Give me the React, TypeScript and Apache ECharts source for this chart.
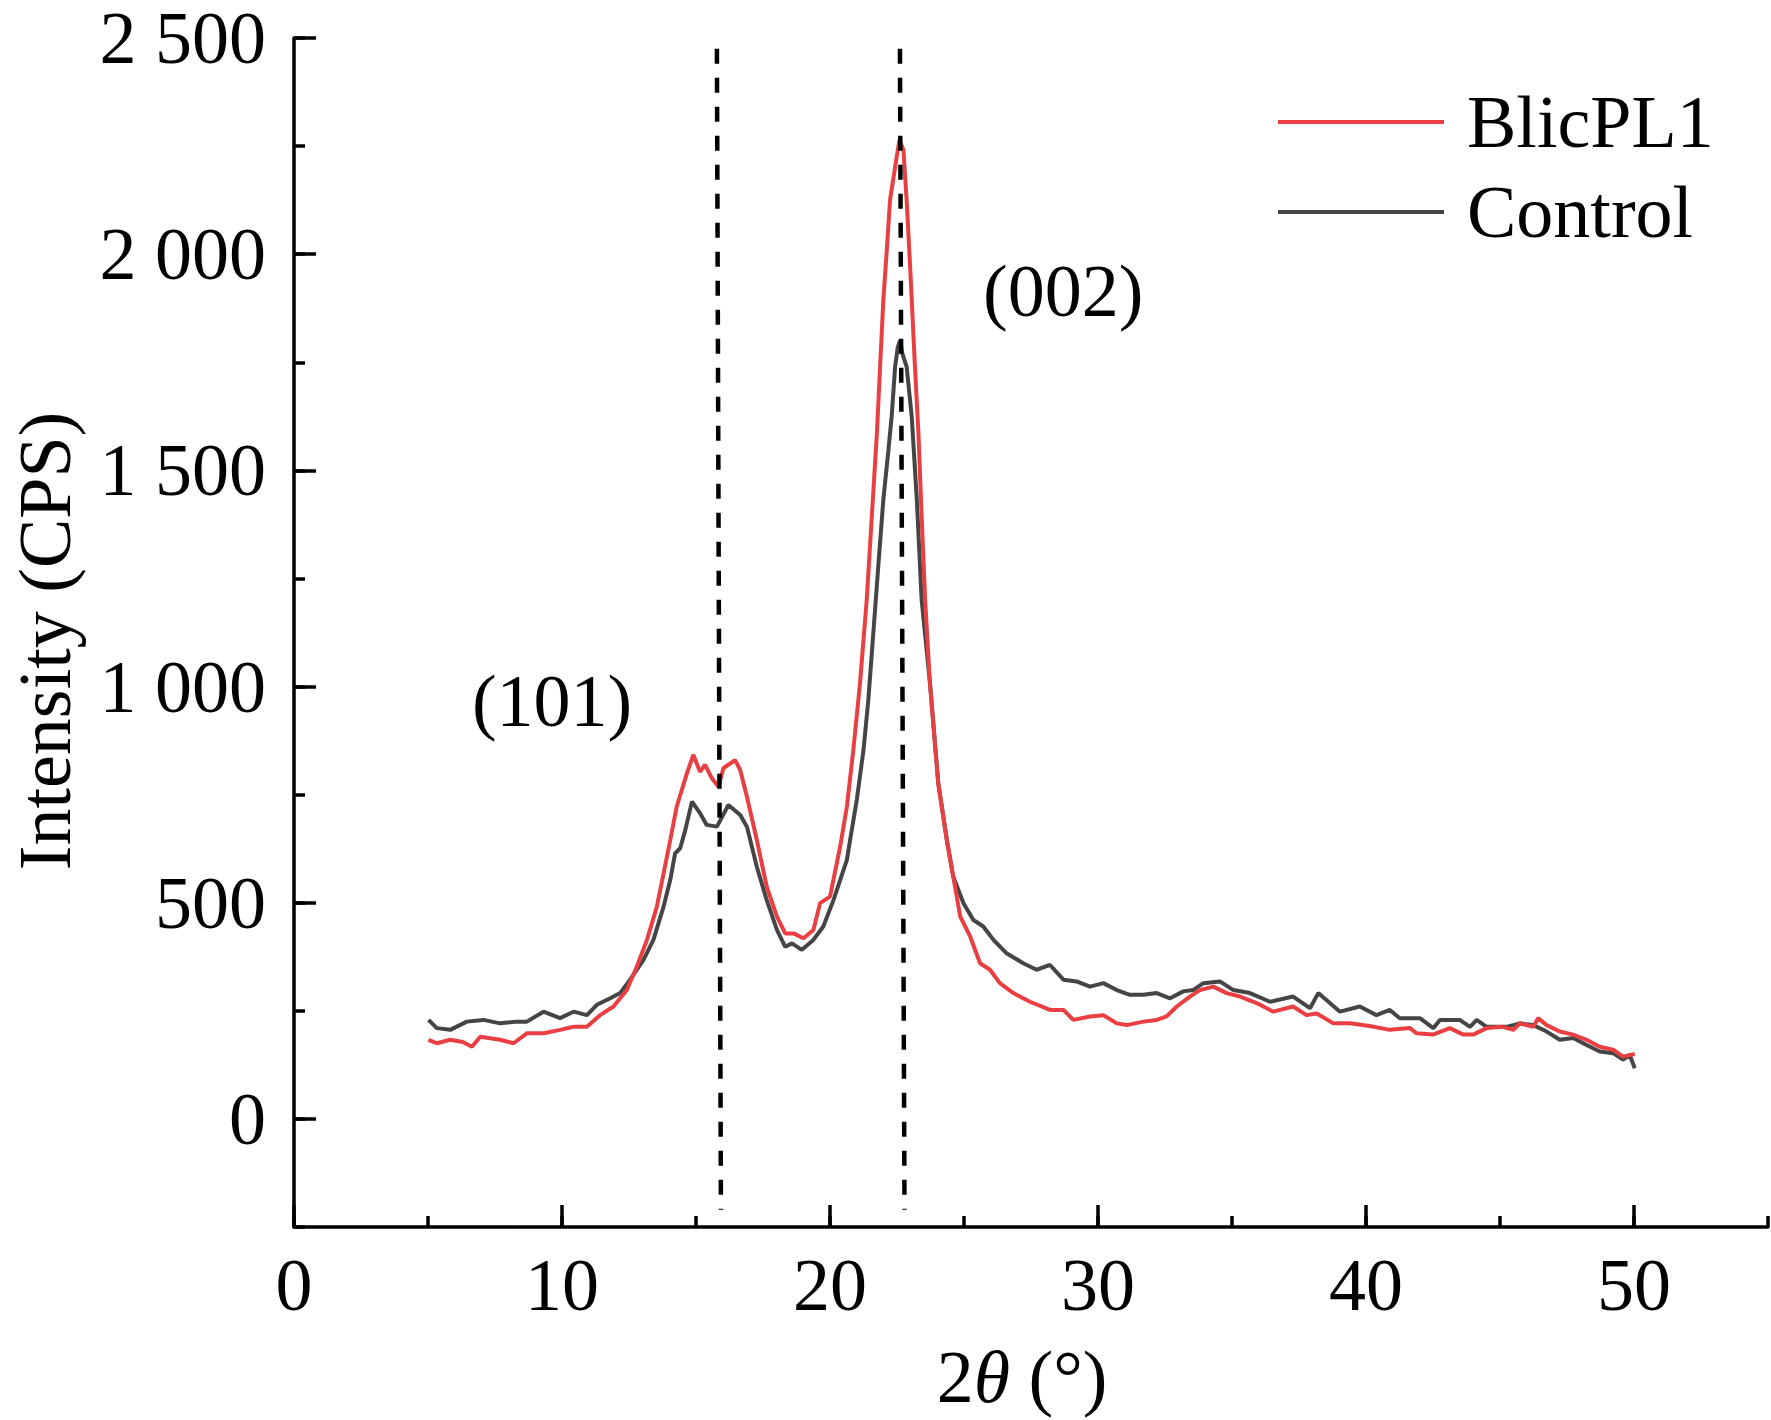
import React, { useEffect, useRef } from "react";
import * as echarts from "echarts";

const FONT = '"Liberation Serif", "Times New Roman", serif';

// 2θ positions and intensities
const blicX = [5.02, 5.33, 5.83, 6.3, 6.64, 6.95, 7.69, 8.19, 8.69, 9.31, 9.93, 10.43, 10.93, 11.42, 11.92, 12.42, 12.79, 13.17, 13.54, 13.79, 14.04, 14.28, 14.66, 14.9, 15.15, 15.34, 15.59, 15.84, 16.02, 16.46, 16.65, 16.9, 17.27, 17.64, 18.02, 18.33, 18.64, 19.01, 19.38, 19.63, 20.0, 20.38, 20.63, 20.87, 21.12, 21.37, 21.56, 21.75, 21.87, 21.99, 22.12, 22.24, 22.43, 22.59, 22.74, 22.86, 22.99, 23.17, 23.3, 23.42, 23.55, 23.73, 24.04, 24.36, 24.6, 24.86, 25.23, 25.6, 25.97, 26.34, 26.84, 27.46, 28.21, 28.71, 29.08, 29.7, 30.2, 30.7, 31.07, 31.69, 32.19, 32.56, 32.94, 33.43, 33.8, 34.3, 34.8, 35.3, 35.92, 36.54, 37.28, 37.78, 38.16, 38.78, 39.4, 40.14, 40.89, 41.64, 41.88, 42.5, 43.13, 43.63, 44.0, 44.5, 45.1, 45.5, 45.74, 46.24, 46.42, 46.74, 47.23, 47.73, 48.23, 48.72, 49.22, 49.59, 50.03];
const blicY = [183, 175, 183, 178, 167, 190, 183, 175, 198, 198, 206, 213, 213, 240, 260, 298, 352, 414, 491, 568, 645, 722, 799, 842, 803, 819, 788, 768, 811, 830, 807, 745, 645, 537, 468, 429, 429, 418, 437, 499, 514, 630, 722, 853, 1008, 1200, 1393, 1586, 1740, 1894, 2010, 2125, 2202, 2264, 2241, 2125, 1971, 1740, 1586, 1393, 1200, 1008, 776, 645, 560, 468, 422, 360, 345, 314, 291, 271, 252, 252, 229, 237, 240, 221, 217, 225, 229, 237, 260, 283, 298, 306, 291, 283, 268, 248, 260, 240, 244, 221, 221, 215, 206, 210, 198, 195, 210, 195, 195, 210, 213, 206, 221, 213, 233, 217, 202, 195, 183, 167, 160, 144, 150];

const ctrlX = [5.02, 5.33, 5.83, 6.45, 7.07, 7.69, 8.32, 8.69, 9.31, 9.93, 10.43, 10.93, 11.3, 11.8, 12.17, 12.54, 13.04, 13.41, 13.79, 14.04, 14.22, 14.41, 14.6, 14.85, 15.15, 15.4, 15.78, 16.21, 16.65, 16.9, 17.27, 17.64, 18.02, 18.33, 18.58, 18.95, 19.38, 19.75, 20.13, 20.63, 20.75, 21.0, 21.25, 21.43, 21.6, 21.8, 21.99, 22.18, 22.3, 22.43, 22.53, 22.61, 22.7, 22.86, 23.05, 23.24, 23.42, 23.73, 24.04, 24.36, 24.6, 24.98, 25.35, 25.72, 26.1, 26.59, 27.21, 27.71, 28.21, 28.71, 29.2, 29.7, 30.2, 30.7, 31.19, 31.69, 32.19, 32.69, 33.18, 33.55, 33.93, 34.55, 35.05, 35.67, 36.42, 37.28, 37.91, 38.22, 39.03, 39.77, 40.39, 40.89, 41.26, 42.01, 42.51, 42.76, 43.5, 43.88, 44.13, 44.5, 45.25, 45.74, 46.24, 46.74, 47.23, 47.73, 48.23, 48.72, 49.22, 49.59, 49.84, 50.03];
const ctrlY = [229, 210, 206, 225, 229, 221, 225, 225, 248, 233, 248, 240, 264, 279, 291, 322, 368, 414, 491, 553, 614, 626, 668, 734, 707, 680, 676, 726, 703, 676, 583, 506, 437, 398, 406, 391, 414, 445, 506, 599, 645, 738, 853, 969, 1110, 1277, 1432, 1547, 1624, 1740, 1785, 1800, 1770, 1740, 1624, 1432, 1200, 1008, 776, 645, 560, 499, 460, 445, 414, 383, 360, 345, 356, 322, 318, 306, 314, 298, 287, 287, 291, 279, 295, 298, 314, 318, 298, 291, 271, 283, 256, 291, 248, 260, 240, 252, 233, 233, 210, 229, 229, 213, 229, 213, 213, 221, 217, 202, 183, 187, 171, 156, 152, 137, 148, 117];

const seriesNames = ["BlicPL1", "Control"];
const yMajorTicks = [0, 500, 1000, 1500, 2000, 2500];
const xMajorTicks = [0, 10, 20, 30, 40, 50];
// dashed reference lines: [x at top, x at bottom]
const peakLineX = [
  [15.78, 15.93],
  [22.61, 22.78],
];
const peakLineY = [2475, -210];
const peakLabels = ["(101)", "(002)"];
const peakLabelX = [9.63, 28.7];
const peakLabelY = [967, 1915];

const zip = (xs: number[], ys: number[]) => xs.map((x, i) => [x, ys[i]]);

const fmtY = (v: number) => {
  if (v < 0 || v % 500 !== 0) return "";
  if (v >= 1000) return `${Math.floor(v / 1000)} ${String(v % 1000).padStart(3, "0")}`;
  return String(v);
};

export default function App() {
  const ref = useRef<HTMLDivElement>(null);

  useEffect(() => {
    if (!ref.current) return;
    const chart = echarts.init(ref.current, null, { renderer: "svg" });
    const axisColor = "#000";
    const AW = 3.5;
    const txt = { color: "#000", fontFamily: FONT, fontSize: 74 };

    const option: any = {
      animation: false,
      backgroundColor: "#fff",
      grid: { left: 294, right: 3, top: 38, bottom: 193, containLabel: false },
      legend: {
        data: seriesNames,
        orient: "vertical",
        left: 1271,
        top: 78,
        itemWidth: 166,
        itemHeight: 4,
        itemGap: 12,
        lineStyle: { width: 4 },
        itemStyle: { opacity: 0 },
        textStyle: { ...txt, lineHeight: 78, padding: [0, 0, 0, 18] },
      },
      xAxis: [
        {
          type: "value",
          min: 0,
          max: 55,
          interval: 5,
          axisLine: { show: true, onZero: false, lineStyle: { color: axisColor, width: AW } },
          axisTick: { show: true, inside: true, length: 11, lineStyle: { color: axisColor, width: AW } },
          axisLabel: {
            ...txt,
            lineHeight: 74,
            margin: 21,
            formatter: (v: number) => (v % 10 === 0 ? String(v) : ""),
          },
          splitLine: { show: false },
          name: "2{i|θ} (°)",
          nameLocation: "middle",
          nameGap: 113,
          nameTextStyle: {
            ...txt,
            lineHeight: 74,
            padding: [0, 18, 0, 0],
            rich: { i: { ...txt, fontStyle: "italic", lineHeight: 74 } },
          },
        },
        {
          type: "value",
          min: 0,
          max: 55,
          position: "bottom",
          axisLine: { show: false, onZero: false },
          axisTick: {
            show: true,
            inside: true,
            length: 22,
            customValues: xMajorTicks,
            lineStyle: { color: axisColor, width: AW },
          },
          axisLabel: { show: false },
          splitLine: { show: false },
        },
      ],
      yAxis: [
        {
          type: "value",
          min: -250,
          max: 2500,
          interval: 250,
          axisLine: { show: true, onZero: false, lineStyle: { color: axisColor, width: AW } },
          axisTick: { show: true, inside: true, length: 11, lineStyle: { color: axisColor, width: AW } },
          axisLabel: { ...txt, lineHeight: 60, margin: 28, formatter: fmtY },
          splitLine: { show: false },
          name: "Intensity (CPS)",
          nameLocation: "middle",
          nameGap: 212,
          nameTextStyle: { ...txt, lineHeight: 74, padding: [0, 17, 0, 0] },
        },
        {
          type: "value",
          min: -250,
          max: 2500,
          position: "left",
          axisLine: { show: false, onZero: false },
          axisTick: {
            show: true,
            inside: true,
            length: 22,
            customValues: yMajorTicks,
            lineStyle: { color: axisColor, width: AW },
          },
          axisLabel: { show: false },
          splitLine: { show: false },
        },
      ],
      series: [
        {
          name: seriesNames[1],
          type: "line",
          xAxisIndex: 0,
          yAxisIndex: 0,
          data: zip(ctrlX, ctrlY),
          symbol: "none",
          lineStyle: { color: "#454545", width: 4 },
          itemStyle: { color: "#454545" },
          markPoint: {
            silent: true,
            symbol: "circle",
            symbolSize: 0,
            itemStyle: { color: "transparent" },
            label: {
              show: true,
              position: "inside",
              ...txt,
              lineHeight: 74,
              formatter: (p: any) => p.name,
            },
            data: peakLabels.map((t, i) => ({ name: t, coord: [peakLabelX[i], peakLabelY[i]] })),
          },
        },
        {
          name: seriesNames[0],
          type: "line",
          xAxisIndex: 0,
          yAxisIndex: 0,
          data: zip(blicX, blicY),
          symbol: "none",
          lineStyle: { color: "#e93f43", width: 4 },
          itemStyle: { color: "#e93f43" },
          markLine: {
            silent: true,
            symbol: ["none", "none"],
            label: { show: false },
            lineStyle: { color: "#000", width: 4.5, type: [15, 14] },
            data: peakLineX.map((xs) => [
              { coord: [xs[0], peakLineY[0]] },
              { coord: [xs[1], peakLineY[1]] },
            ]),
          },
        },
      ],
    };

    chart.setOption(option);
    return () => chart.dispose();
  }, []);

  return (
    <div
      ref={ref}
      style={{ position: "fixed", left: 0, top: 0, width: 1771, height: 1420, background: "#fff" }}
    />
  );
}
